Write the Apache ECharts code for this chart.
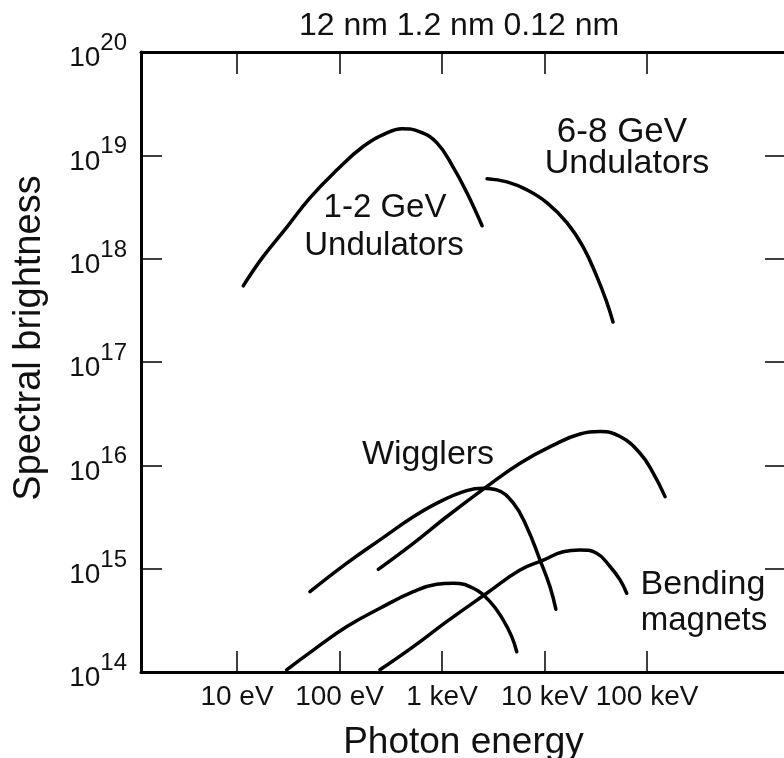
<!DOCTYPE html>
<html>
<head>
<meta charset="utf-8">
<script src="https://cdn.jsdelivr.net/npm/echarts@6/dist/echarts.min.js"></script>
<style>
  html, body { margin: 0; padding: 0; background: #fff; }
  #chart { width: 784px; height: 758px; }
</style>
</head>
<body>
<div id="chart"></div>
<script>
// photon energy (eV) / spectral brightness
const und12Energy = [11.5, 17.9, 30.8, 51.5, 94.6, 169, 290, 407, 610, 893, 1280, 1750, 2460];
const und12Bright = [5.46e17, 1.04e18, 2.03e18, 3.88e18, 7.24e18, 1.21e19, 1.65e19, 1.81e19, 1.69e19, 1.32e19, 7.74e18, 4.34e18, 2.08e18];
const und68Energy = [2750, 4300, 6750, 10600, 16600, 23800, 32500, 40700, 46600];
const und68Bright = [5.93e18, 5.53e18, 4.63e18, 3.47e18, 2.22e18, 1.30e18, 6.67e17, 3.73e17, 2.44e17];
const wig1Energy = [51.5, 118, 248, 525, 955, 1740, 2530, 3420, 4970, 6700, 9040, 11300, 12900];
const wig1Bright = [5.99e14, 1.13e15, 1.90e15, 3.18e15, 4.46e15, 5.69e15, 6.00e15, 5.78e15, 4.30e15, 2.55e15, 1.21e15, 6.70e14, 4.05e14];
const wig2Energy = [239, 525, 1110, 2730, 5770, 12200, 22200, 34800, 54600, 85500, 115000, 150000];
const wig2Bright = [9.86e14, 1.76e15, 3.18e15, 6.22e15, 1.05e16, 1.57e16, 2.01e16, 2.12e16, 1.90e16, 1.31e16, 8.40e15, 4.98e15];
const bend1Energy = [30.5, 55.5, 118, 248, 525, 887, 1290, 2020, 2940, 3960, 4790, 5360];
const bend1Bright = [1.05e14, 1.63e14, 2.75e14, 4.14e14, 5.99e14, 7.06e14, 7.23e14, 6.46e14, 4.80e14, 3.18e14, 2.20e14, 1.57e14];
const bend2Energy = [248, 525, 1110, 2730, 5770, 9730, 15200, 22200, 32300, 43600, 54600, 63400];
const bend2Bright = [1.05e14, 1.76e14, 3.07e14, 5.78e14, 9.70e14, 1.21e15, 1.46e15, 1.52e15, 1.41e15, 1.05e15, 7.78e14, 5.78e14];

const xTickValues = [10, 100, 1000, 10000, 100000];
const xTickLabels = ['10 eV', '100 eV', '1 keV', '10 keV', '100 keV'];
const yTickValues = [1e15, 1e16, 1e17, 1e18, 1e19];
const yLabelValues = [1e14, 1e15, 1e16, 1e17, 1e18, 1e19, 1e20];

const FONT = '"Liberation Sans", Arial, sans-serif';
const INK = '#111';

const zip = (xs, ys) => xs.map((x, i) => [x, ys[i]]);

const curves = [
  ['1-2 GeV undulators', und12Energy, und12Bright],
  ['6-8 GeV undulators', und68Energy, und68Bright],
  ['Wigglers (low)', wig1Energy, wig1Bright],
  ['Wigglers (high)', wig2Energy, wig2Bright],
  ['Bending magnets (low)', bend1Energy, bend1Bright],
  ['Bending magnets (high)', bend2Energy, bend2Bright]
];

const series = curves.map(([name, e, b]) => ({
  name: name,
  type: 'line',
  data: zip(e, b),
  smooth: 0.45,
  showSymbol: false,
  symbol: 'none',
  silent: true,
  lineStyle: { color: '#000', width: 3.5, cap: 'round' }
}));

const xLabel = (v) => {
  const i = xTickValues.findIndex((t) => Math.abs(Math.log10(t) - Math.log10(v)) < 0.01);
  return i >= 0 ? xTickLabels[i] : '';
};

const boxLine = { show: true, lineStyle: { color: '#000', width: 3 } };
const tickStyle = { color: '#000', width: 1.5 };

const xMin = 1.157, xMax = 2.27e6;

const myChart = echarts.init(document.getElementById('chart'));

const txt = (text, x, y, size, extra) => Object.assign({
  type: 'text',
  x: x,
  y: y,
  silent: true,
  style: {
    text: text,
    fill: INK,
    font: size + 'px ' + FONT,
    align: 'center',
    verticalAlign: 'middle',
    textAlign: 'center',
    textVerticalAlign: 'middle'
  }
}, extra || {});

const option = {
  animation: false,
  backgroundColor: '#fff',
  grid: { left: 141, top: 52, width: 645, height: 620, containLabel: false, outerBoundsMode: 'none' },
  xAxis: [
    {
      type: 'log',
      position: 'bottom',
      min: xMin,
      max: xMax,
      axisLine: boxLine,
      splitLine: { show: false },
      axisTick: { show: true, inside: true, length: 21, lineStyle: tickStyle, customValues: xTickValues },
      axisLabel: {
        show: true,
        hideOverlap: false,
        customValues: xTickValues,
        formatter: xLabel,
        margin: 11,
        color: INK,
        fontFamily: FONT,
        fontSize: 28,
        lineHeight: 28
      },
      name: 'Photon energy',
      nameLocation: 'middle',
      nameGap: 52,
      nameTextStyle: { color: INK, fontFamily: FONT, fontSize: 37 }
    },
    {
      type: 'log',
      position: 'top',
      min: xMin,
      max: xMax,
      axisLine: boxLine,
      splitLine: { show: false },
      axisTick: { show: true, inside: true, length: 22, lineStyle: tickStyle, customValues: xTickValues },
      axisLabel: { show: false }
    }
  ],
  yAxis: [
    {
      type: 'log',
      position: 'left',
      min: 1e14,
      max: 1e20,
      axisLine: boxLine,
      splitLine: { show: false },
      axisTick: { show: true, inside: true, length: 21, lineStyle: tickStyle, customValues: yTickValues },
      axisLabel: {
        show: true,
        customValues: yLabelValues,
        margin: 14,
        formatter: (v) => '{b|10}{s|' + Math.round(Math.log10(v)) + '}',
        rich: {
          b: { fontFamily: FONT, fontSize: 28, color: INK, padding: [13, 0, 0, 0] },
          s: { fontFamily: FONT, fontSize: 24, color: INK, verticalAlign: 'top' }
        }
      }
    },
    {
      type: 'log',
      position: 'right',
      min: 1e14,
      max: 1e20,
      axisLine: boxLine,
      splitLine: { show: false },
      axisTick: { show: true, inside: true, length: 21, lineStyle: tickStyle, customValues: yTickValues },
      axisLabel: { show: false }
    }
  ],
  graphic: [
    txt('12 nm 1.2 nm 0.12 nm', 459, 26, 32),
    txt('Spectral brightness', 30, 338, 38, { rotation: Math.PI / 2 }),
    txt('1-2 GeV', 385, 208, 33),
    txt('Undulators', 384, 246, 33),
    txt('6-8 GeV', 622, 132, 35),
    txt('Undulators', 627, 164, 34),
    txt('Wigglers', 428, 455, 34),
    txt('Bending', 703, 585, 34),
    txt('magnets', 704, 621, 33)
  ],
  series: series
};

myChart.setOption(option);
</script>
</body>
</html>
